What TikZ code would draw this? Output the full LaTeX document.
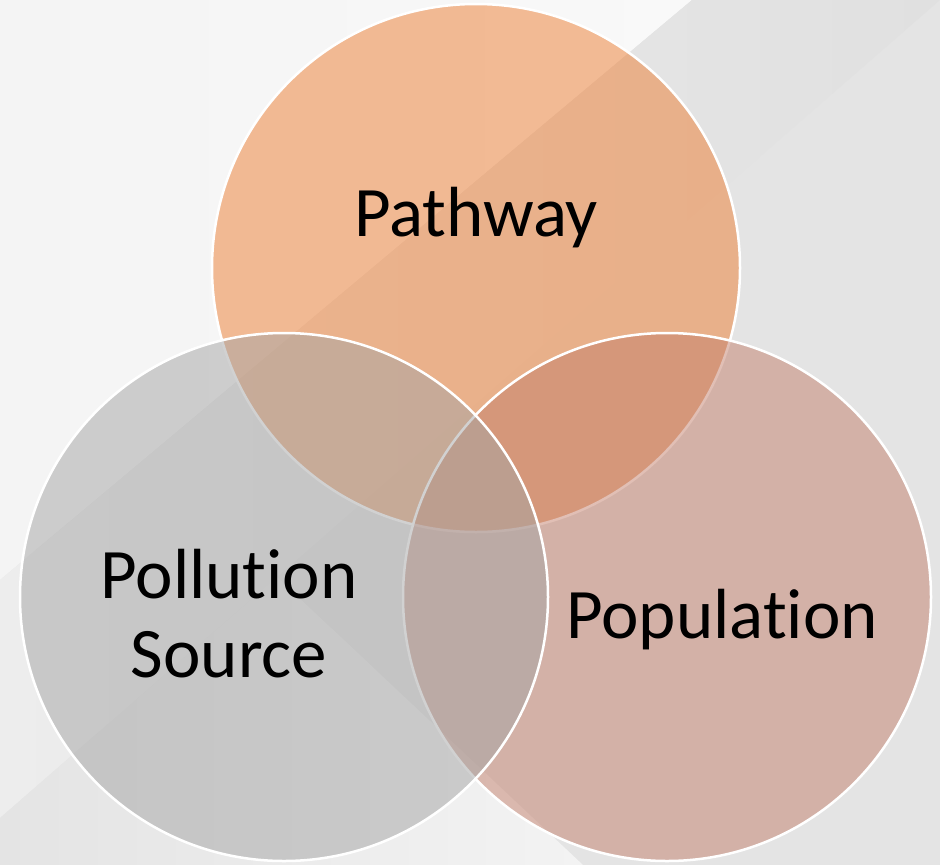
\documentclass[tikz,border=0pt]{standalone}
\usepackage{fontspec}
\setmainfont{Carlito}[Ligatures={NoCommon}]
\usetikzlibrary{positioning}
\definecolor{pathorange}{RGB}{237,125,49}
\definecolor{popred}{RGB}{196,128,108}
\definecolor{srcgray}{RGB}{165,165,165}
\definecolor{bgbase}{RGB}{228,228,228}
\definecolor{bglight}{RGB}{249,249,249}
\definecolor{bgtop}{RGB}{244,244,244}
\definecolor{bandlight}{RGB}{237,237,237}
\definecolor{banddark}{RGB}{224,224,224}
\definecolor{footlight}{RGB}{243,243,243}
\definecolor{footdark}{RGB}{228,228,228}

\begin{document}
\begin{tikzpicture}[x=1pt, y=-1pt,
    venn/.style={circle, draw=white, line width=2.5pt, fill opacity=0.5,
                 minimum size=528pt, inner sep=0pt},
    tag/.style={font=\fontsize{71}{79}\selectfont, align=center, text=black},
]
    % faceted backdrop
    \fill[bgbase] (0,0) rectangle (940,865);
    \shade[left color=bgtop, right color=bglight] (0,0) -- (692,0) -- (0,580) -- cycle;
    \shade[left color=bandlight, right color=banddark] (692,0) -- (940,0) -- (0,818) -- (0,580) -- cycle;
    \shade[left color=footdark, right color=footlight] (0,818) -- (277,577) -- (583,865) -- (0,865) -- cycle;
    \useasboundingbox (0,0) rectangle (940,865);

    % the three sets
    \node[venn, fill=pathorange] (pathway) at (476,268) {};
    \node[venn, fill=popred] (population) at (667,597) {};
    \node[venn, fill=srcgray] (source) at (284,597) {};

    \node[tag, anchor=base] (pathwaytxt) at (476,236) {Pathway};
    \node[tag, anchor=base] (populationtxt) at (722,638) {Population};
    \node[tag, anchor=base] (sourcetxt) at (229,677) {Pollution\\Source};
\end{tikzpicture}
\end{document}
